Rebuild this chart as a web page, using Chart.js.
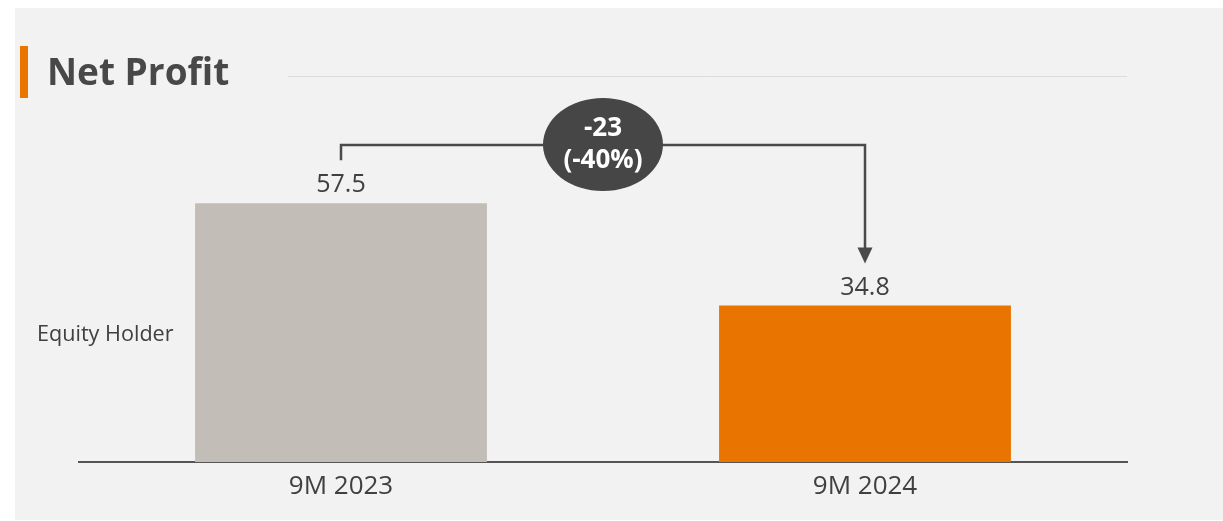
<!DOCTYPE html>
<html>
<head>
<meta charset="utf-8">
<script src="https://cdn.jsdelivr.net/npm/chart.js@4"></script>
<style>
  html, body { margin: 0; padding: 0; background: #ffffff; }
  #wrap { position: absolute; left: 0; top: 0; width: 1223px; height: 521px; }
</style>
</head>
<body>
<div id="wrap"><canvas id="c" width="1223" height="521"></canvas></div>
<script>
const categories = ["9M 2023", "9M 2024"];
const seriesName = "Equity Holder";
const netProfit = [57.5, 34.8];
const barColors = ["#c2beb7", "#e97500"];
const changeAbs = "-23";
const changePct = "(-40%)";
const chartTitle = "Net Profit";

const FONT = "'Open Sans', 'Noto Sans', sans-serif";
const TEXT = "#404040";

const decorPlugin = {
  id: "decor",
  beforeDraw(chart) {
    const ctx = chart.ctx;
    ctx.save();
    ctx.fillStyle = "#ffffff";
    ctx.fillRect(0, 0, chart.width, chart.height);
    ctx.fillStyle = "#f2f2f2";
    ctx.fillRect(15, 8, chart.width - 15, 512);
    // title accent
    ctx.fillStyle = "#e97500";
    ctx.fillRect(20, 46, 8, 52);
    // title
    ctx.fillStyle = "#484848";
    ctx.font = "bold 37px " + FONT;
    ctx.textBaseline = "alphabetic";
    ctx.textAlign = "left";
    ctx.fillText(chartTitle, 47, 85);
    // divider
    ctx.strokeStyle = "#dcdcdc";
    ctx.lineWidth = 1;
    ctx.beginPath();
    ctx.moveTo(288, 76.5);
    ctx.lineTo(chart.chartArea.right, 76.5);
    ctx.stroke();
    // series label
    ctx.fillStyle = TEXT;
    ctx.font = "21.6px " + FONT;
    ctx.fillText(seriesName, 37, 341);
    ctx.restore();
  },
  afterDatasetsDraw(chart) {
    const ctx = chart.ctx;
    const meta = chart.getDatasetMeta(0);
    ctx.save();
    // value labels
    ctx.fillStyle = TEXT;
    ctx.font = "25px " + FONT;
    ctx.textAlign = "center";
    ctx.textBaseline = "middle";
    meta.data.forEach((bar, i) => {
      ctx.fillText(String(netProfit[i]), bar.x, bar.y - 18);
    });
    // connector
    const b0 = meta.data[0], b1 = meta.data[1];
    const lineY = 145;
    ctx.strokeStyle = "#4a4a4a";
    ctx.lineWidth = 2.5;
    ctx.beginPath();
    ctx.moveTo(b0.x, b0.y - 43);
    ctx.lineTo(b0.x, lineY);
    ctx.lineTo(b1.x, lineY);
    ctx.lineTo(b1.x, b1.y - 56);
    ctx.stroke();
    ctx.fillStyle = "#4a4a4a";
    ctx.beginPath();
    ctx.moveTo(b1.x - 7.5, b1.y - 58);
    ctx.lineTo(b1.x + 7.5, b1.y - 58);
    ctx.lineTo(b1.x, b1.y - 42);
    ctx.closePath();
    ctx.fill();
    // ellipse badge
    const cx = 603, cy = 144.5;
    ctx.fillStyle = "#464646";
    ctx.beginPath();
    ctx.ellipse(cx, cy, 60, 46.5, 0, 0, Math.PI * 2);
    ctx.fill();
    ctx.fillStyle = "#ffffff";
    ctx.font = "bold 26px " + FONT;
    ctx.fillText(changeAbs, cx, 129);
    ctx.fillText(changePct, cx, 161);
    ctx.restore();
  }
};

new Chart(document.getElementById("c"), {
  type: "bar",
  data: {
    labels: categories,
    datasets: [{
      label: seriesName,
      data: netProfit,
      backgroundColor: barColors,
      borderWidth: 0,
      categoryPercentage: 1,
      barPercentage: 0.557
    }]
  },
  options: {
    responsive: false,
    animation: false,
    devicePixelRatio: 1,
    layout: { padding: { left: 79, right: 96, top: 102, bottom: 0 } },
    plugins: { legend: { display: false }, tooltip: { enabled: false }, title: { display: false } },
    scales: {
      x: {
        grid: { display: false, drawTicks: false },
        border: { display: true, color: "#555555", width: 2 },
        ticks: { color: TEXT, font: { family: FONT, size: 26 }, padding: 9 },
        afterFit(s) { s.height = 59; }
      },
      y: { display: false, min: 0, max: 80 }
    }
  },
  plugins: [decorPlugin]
});
</script>
</body>
</html>
